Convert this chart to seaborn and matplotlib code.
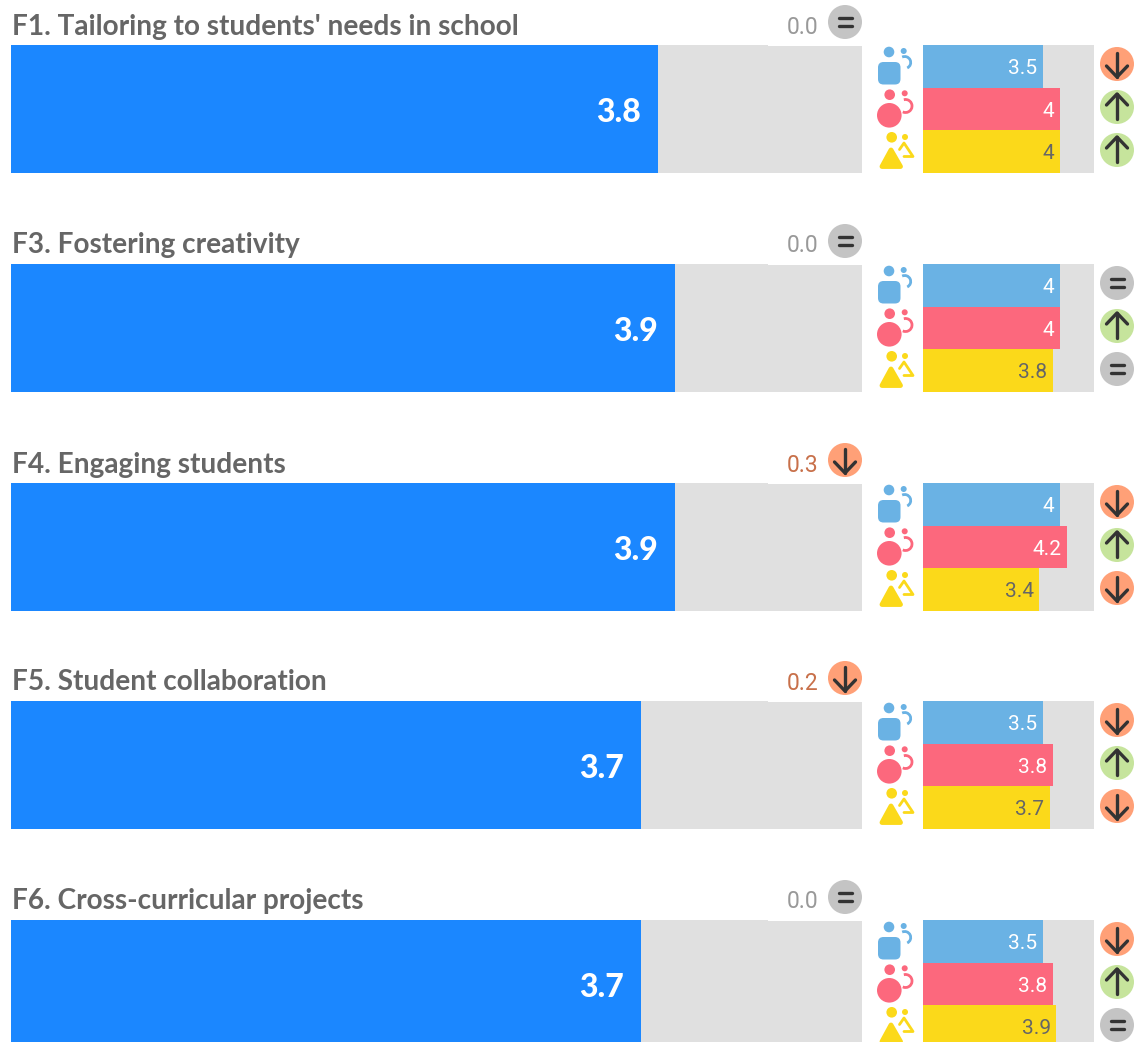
import matplotlib
matplotlib.use("Agg")
import matplotlib.pyplot as plt
import seaborn as sns
from matplotlib.patches import Arc, Circle, FancyBboxPatch, Polygon, Rectangle

# values
topics = ["F1. Tailoring to students' needs in school", "F3. Fostering creativity", "F4. Engaging students",
          "F5. Student collaboration", "F6. Cross-curricular projects"]
overall = [3.8, 3.9, 3.9, 3.7, 3.7]
change = ["0.0", "0.0", "0.3", "0.2", "0.0"]
change_dir = ["same", "same", "down", "down", "same"]
groups = ["blue", "pink", "yellow"]
blue_vals = [3.5, 4, 4, 3.5, 3.5]
pink_vals = [4, 4, 4.2, 3.8, 3.8]
yellow_vals = [4, 3.8, 3.4, 3.7, 3.9]
blue_dir = ["down", "same", "down", "down", "down"]
pink_dir = ["up", "up", "up", "up", "up"]
yellow_dir = ["up", "same", "down", "down", "same"]
max_score = 5

W, H = 1134, 1042
panel_tops = [45, 264, 483, 701, 920]
GREY = "#e0e0e0"
INK = "#333333"
badge_colors = {"down": "#ffa077", "up": "#c6e49c", "same": "#c4c4c4"}
group_colors = {"blue": "#6ab2e4", "pink": "#fc687d", "yellow": "#fbd91a"}
label_colors = {"blue": "white", "pink": "white", "yellow": "#666666"}

sns.set_style("white")
plt.rcParams["font.family"] = ["Lato", "DejaVu Sans"]
value_font = "Roboto"


def px_axes(x, y, w, h):
    a = fig.add_axes([x / W, 1 - (y + h) / H, w / W, h / H], facecolor=GREY)
    return a


def clean(a):
    a.set_xlim(0, max_score)
    a.set_xticks([])
    a.set_yticks([])
    a.set_xlabel("")
    a.set_ylabel("")
    sns.despine(ax=a, left=True, bottom=True)


def badge(ov, cx, cy, kind):
    ov.add_patch(Circle((cx, cy), 17, color=badge_colors[kind], lw=0))
    style = dict(color=INK, lw=2.4, solid_capstyle="round", solid_joinstyle="round")
    if kind == "same":
        ov.plot([cx - 6.5, cx + 6.5], [cy - 3.7, cy - 3.7], **style)
        ov.plot([cx - 6.5, cx + 6.5], [cy + 3.7, cy + 3.7], **style)
    else:
        s = 1 if kind == "down" else -1
        ov.plot([cx, cx], [cy - 11.5 * s, cy + 13 * s], **style)
        ov.plot([cx - 10.5, cx, cx + 10.5], [cy + 2 * s, cy + 13 * s, cy + 2 * s], **style)


def icons(ov, top):
    # blue person, square body
    c = group_colors["blue"]
    ov.add_patch(Circle((889, top + 7), 5.3, color=c, lw=0))
    ov.add_patch(Circle((903.7, top + 6), 3, color=c, lw=0))
    ov.add_patch(FancyBboxPatch((882, top + 21), 14.5, 14.5, boxstyle="round,pad=4,rounding_size=5.5", color=c, lw=0))
    ov.add_patch(Arc((904.7, top + 17.5), 12, 12, theta1=-115, theta2=65, color=c, lw=2))
    # pink person, round body
    c = group_colors["pink"]
    ov.add_patch(Circle((889.7, top + 49.7), 5.3, color=c, lw=0))
    ov.add_patch(Circle((904.7, top + 48.3), 3, color=c, lw=0))
    ov.add_patch(Circle((889.3, top + 70.3), 12.3, color=c, lw=0))
    ov.add_patch(Arc((905.5, top + 61), 13, 13, theta1=-105, theta2=115, color=c, lw=2))
    # yellow person, triangle body
    c = group_colors["yellow"]
    ov.add_patch(Circle((891.7, top + 92.3), 5.3, color=c, lw=0))
    ov.add_patch(Circle((905, top + 92), 3, color=c, lw=0))
    ov.add_patch(Polygon([(891, top + 105), (882, top + 121.5), (900.5, top + 121.5)], closed=True,
                         facecolor=c, edgecolor=c, lw=3.5, joinstyle="round"))
    ov.plot([899.5, 904, 913, 904], [top + 104.5, top + 98, top + 111.5, top + 111.5], color=c, lw=2,
            solid_capstyle="round", solid_joinstyle="round")


fig = plt.figure(figsize=(W / 100, H / 100), dpi=100)
for i, top in enumerate(panel_tops):
    # main bar
    ax = px_axes(11, top, 851, 128)
    sns.barplot(x=[overall[i]], y=[topics[i]], color="#1b87ff", saturation=1, width=1, linewidth=0, ax=ax)
    ax.set_ylim(0.5, -0.5)
    clean(ax)
    ax.annotate(f"{overall[i]:.1f}", (overall[i], 0), xytext=(-12.5, -2.5), textcoords="offset points", ha="right",
                va="center", color="white", fontsize=23, fontweight="black")

    # three small bars
    sub = [blue_vals[i], pink_vals[i], yellow_vals[i]]
    ax2 = px_axes(923, top, 171, 128)
    sns.barplot(x=sub, y=groups, hue=groups, palette=group_colors, saturation=1, width=1, linewidth=0,
                legend=False, ax=ax2)
    ax2.set_ylim(2.5, -0.5)
    clean(ax2)
    for j, g in enumerate(groups):
        ax2.annotate(f"{sub[j]:g}", (sub[j], j), xytext=(-4, -1.5), textcoords="offset points", ha="right",
                     va="center", color=label_colors[g], fontsize=15, family=value_font)

# overlay in pixel coordinates for titles, badges and icons
ov = fig.add_axes([0, 0, 1, 1], zorder=5)
ov.set_xlim(0, W)
ov.set_ylim(H, 0)
ov.axis("off")
ov.patch.set_alpha(0)
for i, top in enumerate(panel_tops):
    ov.text(12, top - 10.5, topics[i], fontsize=20.2, fontweight="bold", color="#666666", va="baseline")
    ov.add_patch(Rectangle((768, top - 2), 94, 3, color="white", lw=0))
    col = "#999999" if change_dir[i] == "same" else "#c8704a"
    ov.text(818, top - 18, change[i], fontsize=16.5, color=col, ha="right", va="center", family=value_font)
    badge(ov, 845, top - 23, change_dir[i])
    for cy, kinds in zip([19, 62, 105], [blue_dir, pink_dir, yellow_dir]):
        badge(ov, 1117, top + cy, kinds[i])
    icons(ov, top)

fig.savefig("out.png", dpi=100)
